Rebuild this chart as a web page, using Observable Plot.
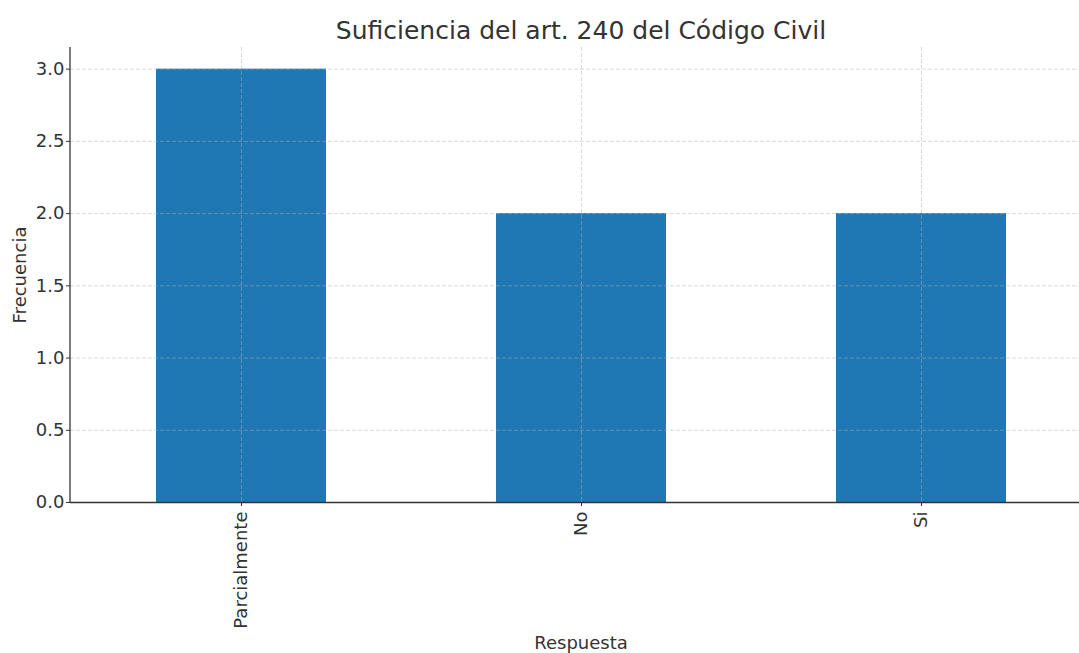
<!DOCTYPE html>
<html>
<head>
<meta charset="utf-8">
<script src="https://cdn.jsdelivr.net/npm/d3@7"></script>
<script src="https://cdn.jsdelivr.net/npm/@observablehq/plot@0.6"></script>
<style>
  html, body { margin: 0; padding: 0; background: white; }
  #chart svg { display: block; }
</style>
</head>
<body>
<div id="chart"></div>
<script>
const categories = ["Parcialmente", "No", "Si"];
const values = [3, 2, 2];
const yTicks = [0, 0.5, 1.0, 1.5, 2.0, 2.5, 3.0];
const title = "Suficiencia del art. 240 del Código Civil";
const xLabel = "Respuesta";
const yLabel = "Frecuencia";

const data = categories.map((c, i) => ({cat: c, value: values[i]}));

const leftSpine = (index, scales, values, dims) => {
  const line = document.createElementNS("http://www.w3.org/2000/svg", "line");
  line.setAttribute("x1", dims.marginLeft);
  line.setAttribute("x2", dims.marginLeft);
  line.setAttribute("y1", dims.marginTop);
  line.setAttribute("y2", dims.height - dims.marginBottom);
  line.setAttribute("stroke", "#333");
  line.setAttribute("stroke-width", 1.3);
  return line;
};

const chart = Plot.plot({
  width: 1079,
  height: 653,
  marginLeft: 70,
  marginRight: 0,
  marginTop: 47,
  marginBottom: 151,
  style: {fontFamily: "DejaVu Sans, sans-serif", fontSize: "18px", color: "#333", background: "white"},
  x: {type: "band", domain: categories, range: [70, 1091.5], paddingInner: 0.5, paddingOuter: 0.25},
  y: {domain: [0, 3.15]},
  marks: [
    Plot.barY(data, {x: "cat", y: "value", fill: "#1f77b4"}),
    Plot.gridY(yTicks, {stroke: "#b0b0b0", strokeOpacity: 0.6, strokeDasharray: "4,2", strokeWidth: 0.8}),
    Plot.gridX(categories, {stroke: "#b0b0b0", strokeOpacity: 0.6, strokeDasharray: "4,2", strokeWidth: 0.8}),
    Plot.axisY(yTicks, {tickSize: 4, tickPadding: 2, tickFormat: d3.format(".1f"), label: null, fontSize: 18, stroke: "#333"}),
    Plot.axisX(categories, {tickSize: 4, tickPadding: 5, tickRotate: -90, label: null, fontSize: 18, stroke: "#333"}),
    Plot.ruleY([0], {stroke: "#333", strokeWidth: 1.3}),
    leftSpine,
    Plot.text([title], {frameAnchor: "top", lineAnchor: "middle", dx: 6, dy: -17, fontSize: 25, fill: "#333"}),
    Plot.text([xLabel], {frameAnchor: "bottom", lineAnchor: "middle", dx: 6, dy: 141, fontSize: 18, fill: "#333"}),
    Plot.text([yLabel], {frameAnchor: "left", textAnchor: "middle", lineAnchor: "middle", dx: -50, rotate: -90, fontSize: 18, fill: "#333"})
  ]
});
document.getElementById("chart").appendChild(chart);
</script>
</body>
</html>
